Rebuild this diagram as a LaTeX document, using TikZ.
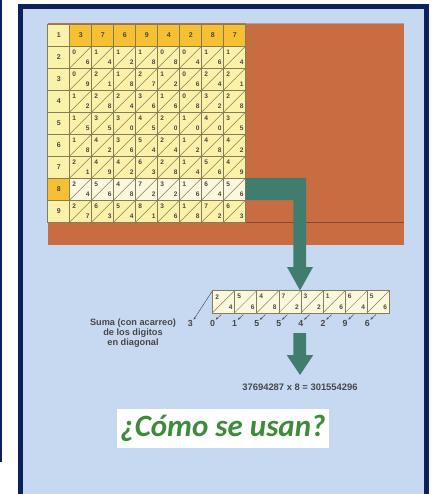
\documentclass[tikz,border=0pt]{standalone}
\usepackage{fontspec}
\setmainfont{Liberation Sans}
\newfontfamily\titlefont{Carlito}
\usetikzlibrary{calc,arrows.meta}
\definecolor{navy}{RGB}{12,32,94}
\definecolor{lightblue}{RGB}{198,217,240}
\definecolor{brick}{RGB}{200,108,66}
\definecolor{brickline}{RGB}{140,70,45}
\definecolor{hdr}{RGB}{246,192,50}
\definecolor{cellyellow}{RGB}{252,241,168}
\definecolor{cellcream}{RGB}{251,248,222}
\definecolor{gridc}{RGB}{130,126,88}
\definecolor{teal}{RGB}{64,125,110}
\definecolor{txtgray}{RGB}{72,72,72}
\definecolor{titlegreen}{RGB}{60,140,60}
\tikzset{
  cellbox/.style={draw=gridc, line width=0.5pt, minimum size=22pt, inner sep=0pt, outer sep=0pt, anchor=north west},
  diag/.style={draw=gridc, line width=0.45pt},
  digit/.style={inner sep=0pt, font=\fontsize{6.6}{7}\selectfont\bfseries, text=txtgray},
  hdigit/.style={inner sep=0pt, font=\fontsize{7}{8}\selectfont\bfseries, text=txtgray},
  sumdigit/.style={inner sep=0.6pt, font=\fontsize{8.8}{9}\selectfont\bfseries, text=txtgray},
  restext/.style={inner sep=0pt, font=\fontsize{9.4}{10}\selectfont\bfseries, text=txtgray},
  sumarr/.style={draw=txtgray, line width=0.45pt, -{Stealth[length=2.6pt,width=2.2pt]}},
  bigarrow/.style={fill=teal, draw=none},
  note/.style={inner sep=0pt, font=\fontsize{9.2}{10.3}\selectfont\bfseries, text=txtgray, align=center}
}
\begin{document}
\begin{tikzpicture}[x=1pt,y=-1pt]
\useasboundingbox (0,0) rectangle (433,494);
\clip (0,0) rectangle (433,494);
% frame
\fill[navy] (18,4) rectangle (429,500);
\fill[lightblue] (23,9.3) rectangle (424,500);
\fill[navy] (0,0) rectangle (1.8,462);
% brick board
\fill[brick] (47.7,23) rectangle (404,245);
\draw[brickline, line width=0.7pt] (246,222) -- (404,222);
\draw[gray!70, line width=0.6pt] (246,23.2) -- (404,23.2);
% top-left corner cell
\node[cellbox, fill=cellyellow] (c1-0) at (47.7,24) {};
\node[hdigit] at (c1-0.center) {1};
% left column
\foreach \m [count=\r] in {2,...,9} {
  \def\fc{cellyellow}
  \ifnum\m=8 \def\fc{hdr}\fi
  \node[cellbox, fill=\fc] (c\m-0) at (47.7,24+22*\r) {};
  \node[hdigit] at (c\m-0.center) {\m};
}
% header row and products
\foreach \d [count=\c] in {3,7,6,9,4,2,8,7} {
  \node[cellbox, fill=hdr] (c1-\c) at (47.7+22*\c,24) {};
  \node[hdigit] at (c1-\c.center) {\d};
  \foreach \m [count=\r] in {2,...,9} {
    \pgfmathtruncatemacro\p{\m*\d}
    \pgfmathtruncatemacro\t{int(\p/10)}
    \pgfmathtruncatemacro\u{mod(\p,10)}
    \def\fc{cellyellow}
    \ifnum\m=8 \def\fc{cellcream}\fi
    \node[cellbox, fill=\fc] (c\m-\c) at (47.7+22*\c,24+22*\r) {};
    \draw[diag] (c\m-\c.south west) -- (c\m-\c.north east);
    \node[digit] (t\m-\c) at ($(c\m-\c.north west)+(4.6,6)$) {\t};
    \node[digit] (u\m-\c) at ($(c\m-\c.south east)+(-4,-5.5)$) {\u};
  }
}
% teal arrow 1
\fill[bigarrow] (c8-8.north east) -- (306,178) -- (306,267) -- (313,267) -- (300,290.4)
  -- (287,267) -- (293.3,267) -- (293.3,200) -- (c8-8.south east) -- cycle;
% product strip
\foreach \v [count=\k] in {24,56,48,72,32,16,64,56} {
  \pgfmathtruncatemacro\t{int(\v/10)}
  \pgfmathtruncatemacro\u{mod(\v,10)}
  \node[cellbox, fill=cellcream, minimum size=22.1pt] (s\k) at (212.5+22.1*\k-22.1,290.7) {};
  \draw[diag] (s\k.south west) -- (s\k.north east);
  \node[digit] (st\k) at ($(s\k.north west)+(4.6,6)$) {\t};
  \node[digit] (su\k) at ($(s\k.south east)+(-4,-5.5)$) {\u};
}
% sum digits
\foreach \v [count=\k from 0] in {3,0,1,5,5,4,2,9,6} {
  \node[sumdigit] (d\k) at (190.4+22.1*\k,323.5) {\v};
}
\draw[sumarr] (s1.north west) -- (d0.north east);
\foreach \k in {1,...,8} {
  \coordinate (a\k) at ($(d\k.north east)+(5.5,-5)$);
  \draw[sumarr] (a\k) -- (d\k.north east);
}
% note
\node[note] (note) at (133,333) {Suma (con acarreo)\\de los digitos\\en diagonal};
% teal arrow 2
\fill[bigarrow] (293.3,333) -- (306,333) -- (306,355) -- (313.3,355) -- (300,375)
  -- (286.7,355) -- (293.3,355) -- cycle;
\node[restext] (res) at (300,387) {37694287 x 8 = 301554296};
% title
\node[fill=white, minimum width=212.6pt, minimum height=39pt, inner sep=0pt,
      font=\titlefont\fontsize{31}{34}\selectfont\bfseries\itshape, text=titlegreen] (title)
      at (223,428.8) {¿Cómo se usan?};
\end{tikzpicture}
\end{document}
